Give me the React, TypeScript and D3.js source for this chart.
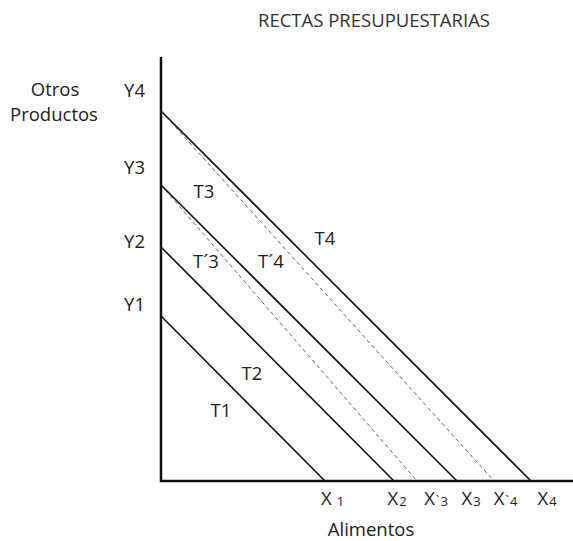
import { useEffect, useRef } from "react";
import * as d3 from "d3";

// quantities in arbitrary units (1 unit ~ 10 px in the original drawing)
const yTickLabels = ["Y1", "Y2", "Y3", "Y4"];
const yLabelAt = [17.7, 24.0, 31.4, 39.1];

const xTickLabels = ["1", "2", "`3", "3", "`4", "4"];
const xLabelAt = [17.15, 23.6, 27.5, 31.0, 34.45, 38.6];

const lineNames = ["T1", "T2", "T´3", "T3", "T´4", "T4"];
const lineY = [16.5, 23.4, 29.6, 29.6, 37.0, 37.0];
const lineX = [16.4, 23.3, 25.6, 29.6, 33.3, 37.0];
const lineDashed = [false, false, true, false, true, false];
const labelX = [6.0, 9.1, 4.5, 4.3, 11.0, 16.4];
const labelY = [7.1, 10.8, 22.0, 29.0, 22.0, 24.3];

const xMax = 41.2;
const yMax = 42.4;

export default function App() {
  const ref = useRef<SVGSVGElement | null>(null);
  const width = 573;
  const height = 541;
  const margin = { top: 57, right: 0, bottom: 60, left: 161 };

  useEffect(() => {
    const svg = d3.select(ref.current);
    svg.selectAll("*").remove();
    const font = "'Open Sans', sans-serif";
    const fs = 18.5;
    const mid = fs * 0.36; // shift from cap-centre to baseline

    const x = d3.scaleLinear().domain([0, xMax]).range([margin.left, width - margin.right]);
    const y = d3.scaleLinear().domain([0, yMax]).range([height - margin.bottom, margin.top]);

    svg.append("rect").attr("width", width).attr("height", height).attr("fill", "#fff");

    // budget lines
    lineNames.forEach((name, i) => {
      svg.append("line")
        .attr("x1", x(0)).attr("y1", y(lineY[i]))
        .attr("x2", x(lineX[i])).attr("y2", y(0))
        .attr("stroke", lineDashed[i] ? "#666" : "#111")
        .attr("stroke-width", lineDashed[i] ? 1 : 1.6)
        .attr("stroke-dasharray", lineDashed[i] ? "4,3" : null);
      svg.append("text")
        .attr("x", x(labelX[i])).attr("y", y(labelY[i]) + mid)
        .attr("text-anchor", "middle")
        .attr("font-family", font).attr("font-size", fs).attr("fill", "#222")
        .text(name);
    });

    // axes
    svg.append("path")
      .attr("d", `M${x(0)},${y(yMax)}V${y(0)}H${x(xMax)}`)
      .attr("fill", "none").attr("stroke", "#111").attr("stroke-width", 2.5);

    // y labels
    yTickLabels.forEach((t, i) => {
      svg.append("text")
        .attr("x", 145).attr("y", y(yLabelAt[i]) + mid)
        .attr("text-anchor", "end")
        .attr("font-family", font).attr("font-size", fs).attr("fill", "#222")
        .text(t);
    });

    // x labels
    xTickLabels.forEach((t, i) => {
      const prime = t.startsWith("`");
      const g = svg.append("text")
        .attr("x", x(xLabelAt[i])).attr("y", y(0) + 24)
        .attr("text-anchor", "middle")
        .attr("font-family", font).attr("font-size", fs).attr("fill", "#222");
      g.append("tspan").text("X");
      if (prime) g.append("tspan").attr("font-size", 13).attr("dx", 1).text("`");
      g.append("tspan").attr("font-size", 13).attr("dx", i === 0 ? 5 : 1).attr("dy", 1)
        .text(prime ? t.slice(1) : t);
    });

    svg.append("text")
      .attr("x", 371).attr("y", y(0) + 55)
      .attr("text-anchor", "middle")
      .attr("font-family", font).attr("font-size", fs).attr("fill", "#222")
      .text("Alimentos");

    svg.append("text")
      .attr("x", 55).attr("y", 89 + mid)
      .attr("text-anchor", "middle")
      .attr("font-family", font).attr("font-size", fs).attr("fill", "#222")
      .text("Otros");
    svg.append("text")
      .attr("x", 54).attr("y", 114 + mid)
      .attr("text-anchor", "middle")
      .attr("font-family", font).attr("font-size", fs).attr("fill", "#222")
      .text("Productos");

    svg.append("text")
      .attr("x", 374).attr("y", 27)
      .attr("text-anchor", "middle")
      .attr("font-family", font).attr("font-size", fs).attr("fill", "#333")
      .text("RECTAS PRESUPUESTARIAS");
  }, []);

  return (
    <svg
      ref={ref}
      width={width}
      height={height}
      style={{ position: "absolute", left: 0, top: 0 }}
    ></svg>
  );
}
